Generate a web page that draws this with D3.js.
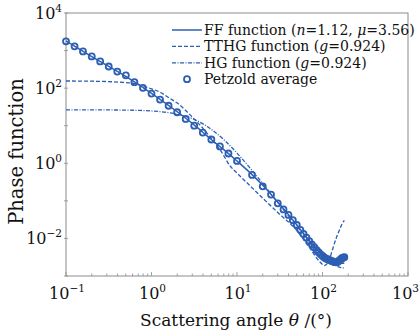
<!DOCTYPE html>
<html>
<head>
<meta charset="utf-8">
<script src="https://cdn.jsdelivr.net/npm/d3@7"></script>
<style>
  body { margin: 0; background: #fff; }
  svg { display: block; font-family: "DejaVu Serif", serif; }
</style>
</head>
<body>
<div id="chart-wrap"></div>
<script>
// Petzold average (angle in degrees, phase function in 1/sr)
const petzoldAngle = [0.1, 0.126, 0.158, 0.2, 0.251, 0.316, 0.398, 0.501, 0.631, 0.794,
  1.0, 1.259, 1.585, 1.995, 2.512, 3.162, 3.981, 5.012, 6.31, 7.943,
  10, 15, 20, 25, 30, 35, 40, 45, 50, 55, 60, 65, 70, 75, 80, 85, 90,
  95, 100, 105, 110, 115, 120, 125, 130, 135, 140, 145, 150, 155, 160,
  165, 170, 175, 180];
const petzoldValue = [1767, 1296, 950.2, 699.1, 514.0, 376.4, 276.3, 218.8, 144.4, 102.2,
  71.61, 49.58, 33.95, 22.81, 15.16, 10.02, 6.58, 4.295, 2.807, 1.819,
  1.153, 0.4893, 0.2444, 0.1472, 0.08609, 0.05931, 0.0421, 0.03067, 0.02275, 0.01699,
  0.01313, 0.01046, 0.008488, 0.006976, 0.005842, 0.004953, 0.004292,
  0.003782, 0.003404, 0.003116, 0.002912, 0.002797, 0.002686, 0.002571, 0.002476,
  0.002377, 0.002329, 0.002313, 0.002365, 0.002506, 0.002662,
  0.002835, 0.003031, 0.003092, 0.003154];

// FF function (n=1.12, mu=3.56)
const ffAngle = [0.1, 0.2, 0.5, 1, 2, 3, 5, 7, 10, 15, 20, 30, 40, 50, 60, 70, 80, 90,
  100, 110, 120, 130, 140, 150, 160, 170, 180];
const ffValue = [1800, 690, 205, 73, 23.5, 11.5, 4.3, 2.3, 1.15, 0.50, 0.26, 0.092, 0.043,
  0.023, 0.0135, 0.0087, 0.006, 0.0045, 0.0036, 0.003, 0.0026, 0.0024, 0.0023, 0.0022,
  0.0022, 0.0022, 0.0022];

// TTHG function (g=0.924)
const tthgAngle = [0.1, 0.2, 0.3, 0.5, 0.64, 0.8, 1, 1.26, 1.65, 2, 3, 4, 5, 6.5, 8.3,
  10, 14, 19.4, 30, 50, 70, 94, 105, 115, 122, 130, 146, 160, 170, 180];
const tthgValue = [155, 153, 150, 140, 132, 112, 96, 78, 53, 40, 17, 8.5, 4.6, 2.1, 0.85,
  0.55, 0.26, 0.126, 0.049, 0.0163, 0.0058, 0.00233, 0.0019, 0.0022, 0.003, 0.0048,
  0.0108, 0.018, 0.025, 0.03];

// HG function (g=0.924)
const hgAngle = [0.1, 0.3, 0.5, 0.7, 1, 1.5, 2, 3, 4, 5, 7, 10, 15, 20, 30, 40, 45, 60,
  75, 90, 105, 120, 135, 150, 165, 180];
const hgValue = [26.5, 26.3, 26.0, 25.6, 24.7, 22.7, 20.3, 15.4, 11.2, 8.0, 4.26, 1.87,
  0.646, 0.290, 0.0912, 0.0401, 0.0288, 0.0130, 0.00721, 0.00461, 0.00327, 0.00251,
  0.00207, 0.00181, 0.00168, 0.00163];

const xTicks = [0.1, 1, 10, 100, 1000];
const yTicks = [1e-3, 1e-2, 1e-1, 1, 10, 100, 1e3, 1e4];
const yLabelTicks = [1e-2, 1, 100, 1e4];

const legendLabels = [
  ["FF function (", ["n", true], "=1.12, ", ["μ", true], "=3.56)"],
  ["TTHG function (", ["g", true], "=0.924)"],
  ["HG function (", ["g", true], "=0.924)"],
  ["Petzold average"]
];

const blue = "#2c5fb3";
const gray = "#8c8c8c";

const width = 420, height = 331;
const margin = { top: 13, right: 12, bottom: 55, left: 66 };
const innerW = width - margin.left - margin.right;
const innerH = height - margin.top - margin.bottom;

const svg = d3.select("#chart-wrap").append("svg")
  .attr("width", width)
  .attr("height", height);

const g = svg.append("g")
  .attr("transform", "translate(" + margin.left + "," + margin.top + ")");

const x = d3.scaleLog().domain([0.1, 1000]).range([0, innerW]);
const y = d3.scaleLog().domain([1e-3, 1e4]).range([innerH, 0]);

// minor ticks on x
const xMinor = [];
for (let e = -1; e < 3; e++) {
  for (let k = 2; k <= 9; k++) xMinor.push(k * Math.pow(10, e));
}
g.selectAll(".xminor").data(xMinor).enter().append("line")
  .attr("x1", d => x(d)).attr("x2", d => x(d))
  .attr("y1", innerH).attr("y2", innerH - 2.5)
  .attr("stroke", gray).attr("stroke-width", 0.8);
g.selectAll(".xmajor").data(xTicks).enter().append("line")
  .attr("x1", d => x(d)).attr("x2", d => x(d))
  .attr("y1", innerH).attr("y2", innerH - 4)
  .attr("stroke", gray).attr("stroke-width", 0.8);
g.selectAll(".ymajor").data(yTicks).enter().append("line")
  .attr("x1", -2).attr("x2", 2)
  .attr("y1", d => y(d)).attr("y2", d => y(d))
  .attr("stroke", gray).attr("stroke-width", 0.8);

// frame
g.append("rect")
  .attr("width", innerW).attr("height", innerH)
  .attr("fill", "none").attr("stroke", gray).attr("stroke-width", 1);

// tick labels
function powLabel(sel, d) {
  const e = Math.round(Math.log10(d));
  sel.append("tspan").text("10");
  sel.append("tspan").attr("dy", -7).attr("font-size", 10.5).text(e < 0 ? "\u2212" + (-e) : e);
}
xTicks.forEach((d, i) => {
  const last = i === xTicks.length - 1;
  const t = g.append("text")
    .attr("x", last ? innerW + 11 : x(d) + 1).attr("y", innerH + 23)
    .attr("text-anchor", last ? "end" : "middle")
    .attr("font-size", 16).attr("fill", "#111");
  powLabel(t, d);
});
yLabelTicks.forEach(d => {
  const t = g.append("text")
    .attr("x", -4).attr("y", y(d) + 6)
    .attr("text-anchor", "end")
    .attr("font-size", 16).attr("fill", "#111");
  powLabel(t, d);
});

// axis titles
const xt = svg.append("text")
  .attr("x", margin.left + innerW / 2 - 1).attr("y", 326)
  .attr("text-anchor", "middle").attr("font-size", 17).attr("fill", "#111");
xt.append("tspan").text("Scattering angle ");
xt.append("tspan").attr("font-style", "italic").text("θ");
xt.append("tspan").text(" /(°)");

svg.append("text")
  .attr("transform", "translate(23," + (margin.top + innerH / 2 + 7) + ") rotate(-90)")
  .attr("text-anchor", "middle").attr("font-size", 19.5).attr("fill", "#111")
  .text("Phase function");

// curves
const line = d3.line()
  .x(d => x(d[0]))
  .y(d => y(d[1]))
  .curve(d3.curveMonotoneX);

const plot = g.append("g");
plot.append("path")
  .datum(d3.zip(ffAngle, ffValue))
  .attr("d", line).attr("fill", "none")
  .attr("stroke", blue).attr("stroke-width", 1.5);
plot.append("path")
  .datum(d3.zip(tthgAngle, tthgValue))
  .attr("d", line).attr("fill", "none")
  .attr("stroke", blue).attr("stroke-width", 1.3)
  .attr("stroke-dasharray", "4,2");
plot.append("path")
  .datum(d3.zip(hgAngle, hgValue))
  .attr("d", line).attr("fill", "none")
  .attr("stroke", blue).attr("stroke-width", 1.3)
  .attr("stroke-dasharray", "4,1.5,1,1.5");
plot.selectAll("circle")
  .data(d3.zip(petzoldAngle, petzoldValue))
  .enter().append("circle")
  .attr("cx", d => x(d[0])).attr("cy", d => y(d[1]))
  .attr("r", 3).attr("fill", "none")
  .attr("stroke", blue).attr("stroke-width", 1.8);

// legend
const legend = svg.append("g").attr("transform", "translate(172,30)");
const rowH = 16.4;
legendLabels.forEach((parts, i) => {
  const row = legend.append("g").attr("transform", "translate(0," + i * rowH + ")");
  if (i < 3) {
    row.append("line")
      .attr("x1", 0).attr("x2", 30).attr("y1", 0).attr("y2", 0)
      .attr("stroke", blue).attr("stroke-width", i === 0 ? 1.5 : 1.3)
      .attr("stroke-dasharray", i === 1 ? "4,2" : i === 2 ? "4,1.5,1,1.5" : null);
  } else {
    row.append("circle")
      .attr("cx", 15).attr("cy", 0).attr("r", 3)
      .attr("fill", "none").attr("stroke", blue).attr("stroke-width", 1.8);
  }
  const t = row.append("text")
    .attr("x", 32).attr("y", 5)
    .attr("font-size", 14).attr("fill", "#111");
  parts.forEach(p => {
    if (Array.isArray(p)) t.append("tspan").attr("font-style", "italic").text(p[0]);
    else t.append("tspan").text(p);
  });
});
</script>
</body>
</html>
